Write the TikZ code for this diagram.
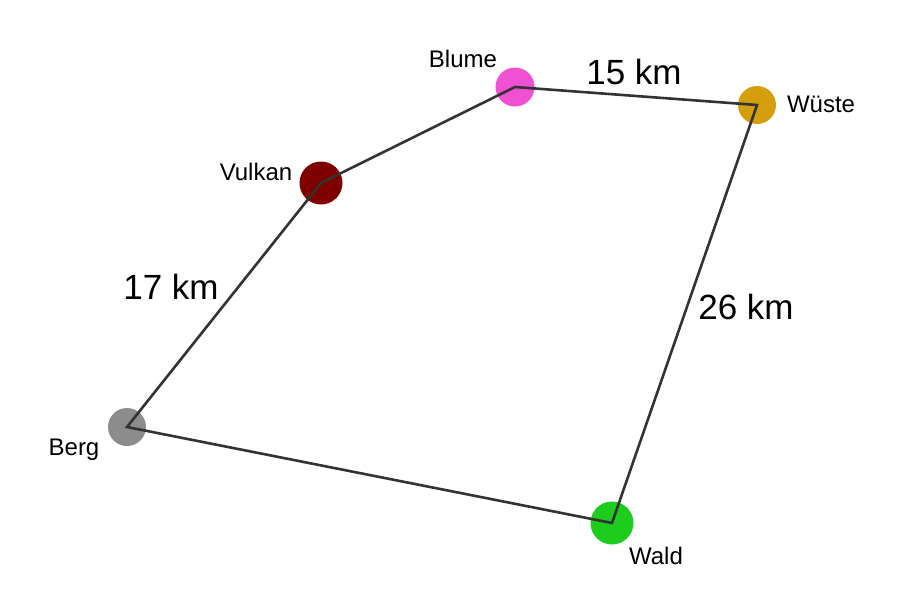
\documentclass[tikz,border=0pt]{standalone}
\usepackage{fontspec}
\setmainfont{Liberation Sans}
\usetikzlibrary{positioning}

\definecolor{blumepink}{HTML}{F050D2}
\definecolor{wuestegold}{HTML}{D49E0C}
\definecolor{vulkanred}{HTML}{800000}
\definecolor{berggray}{HTML}{8C8C8C}
\definecolor{waldgreen}{HTML}{1ECC1E}
\definecolor{edgegray}{HTML}{333333}

\begin{document}
\begin{tikzpicture}[x=1pt,y=-1pt]
\tikzstyle{place}=[circle,inner sep=0pt]
\tikzstyle{edge} = [draw,edgegray,line width=2.6pt,line join=miter]
\tikzstyle{placename} = [font=\fontsize{24}{28}\selectfont,inner sep=0pt]
\tikzstyle{distlabel} = [font=\fontsize{35}{40}\selectfont,inner sep=0pt]

\useasboundingbox (0,0) rectangle (908,597);

\draw (127,427) node[place,fill=berggray,minimum size=38pt] (berg) {};
\draw (321,183) node[place,fill=vulkanred,minimum size=43pt] (vulkan) {};
\draw (515,87) node[place,fill=blumepink,minimum size=39pt] (blume) {};
\draw (757,105) node[place,fill=wuestegold,minimum size=38pt] (wueste) {};
\draw (612,523) node[place,fill=waldgreen,minimum size=43pt] (wald) {};

\path[edge] (berg.center) -- (vulkan.center) -- (blume.center)
  -- (wueste.center) -- (wald.center) -- cycle;

\node[placename] (bergname) at (74,450) {Berg};
\node[placename] (vulkanname) at (256,172) {Vulkan};
\node[placename] (blumename) at (463,59) {Blume};
\node[placename] (wuestename) at (821,104) {Wüste};
\node[placename] (waldname) at (656,556) {Wald};

\node[distlabel] (bergvulkan) at (171,287) {17 km};
\node[distlabel] (blumewueste) at (634,72) {15 km};
\node[distlabel] (wuestewald) at (746,307) {26 km};
\end{tikzpicture}
\end{document}
